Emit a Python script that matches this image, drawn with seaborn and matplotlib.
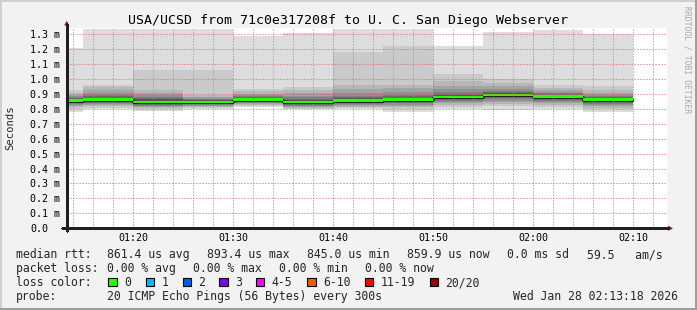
import numpy as np
import pandas as pd
import matplotlib
matplotlib.use("Agg")
import matplotlib.pyplot as plt
import seaborn as sns
from matplotlib.patches import Polygon, Rectangle
from matplotlib.lines import Line2D
from matplotlib.ticker import MultipleLocator

# ---------------- data ----------------
# sample timestamps: minutes after 01:00 (end of each 300 s step)
sample_min = [15, 20, 25, 30, 35, 40, 45, 50, 55, 60, 65, 70]
# median rtt (ms) per step
median_ms = [0.854, 0.860, 0.845, 0.845, 0.860, 0.845, 0.854, 0.860, 0.878, 0.892, 0.880, 0.860]
# 20 sorted ping rtts (ms) per step
rtt_0115 = [0.780, 0.800, 0.812, 0.820, 0.828, 0.833, 0.838, 0.842, 0.846, 0.850,
            0.858, 0.862, 0.867, 0.872, 0.878, 0.885, 0.895, 0.905, 0.925, 1.204]
rtt_0120 = [0.798, 0.808, 0.817, 0.824, 0.830, 0.836, 0.841, 0.846, 0.851, 0.856,
            0.864, 0.868, 0.874, 0.882, 0.892, 0.905, 0.925, 0.945, 0.958, 1.333]
rtt_0125 = [0.787, 0.796, 0.803, 0.810, 0.816, 0.821, 0.826, 0.831, 0.836, 0.841,
            0.849, 0.855, 0.862, 0.869, 0.878, 0.890, 0.905, 0.925, 1.058, 1.333]
rtt_0130 = [0.798, 0.804, 0.810, 0.815, 0.820, 0.825, 0.829, 0.833, 0.837, 0.841,
            0.849, 0.853, 0.857, 0.861, 0.866, 0.872, 0.880, 0.890, 1.058, 1.333]
rtt_0135 = [0.810, 0.818, 0.824, 0.830, 0.835, 0.840, 0.844, 0.848, 0.852, 0.856,
            0.864, 0.867, 0.871, 0.876, 0.882, 0.890, 0.900, 0.918, 0.935, 1.288]
rtt_0140 = [0.798, 0.801, 0.806, 0.811, 0.816, 0.821, 0.826, 0.831, 0.836, 0.841,
            0.849, 0.854, 0.860, 0.867, 0.876, 0.888, 0.905, 0.925, 0.945, 1.306]
rtt_0145 = [0.796, 0.804, 0.812, 0.818, 0.824, 0.830, 0.835, 0.840, 0.845, 0.850,
            0.858, 0.863, 0.869, 0.877, 0.888, 0.905, 0.935, 0.960, 1.177, 1.333]
rtt_0150 = [0.780, 0.797, 0.810, 0.820, 0.828, 0.835, 0.841, 0.846, 0.851, 0.856,
            0.864, 0.868, 0.874, 0.882, 0.893, 0.910, 0.940, 0.960, 1.219, 1.333]
rtt_0155 = [0.796, 0.812, 0.825, 0.837, 0.845, 0.852, 0.858, 0.864, 0.869, 0.874,
            0.882, 0.886, 0.892, 0.900, 0.912, 0.930, 0.955, 0.985, 1.030, 1.219]
rtt_0200 = [0.789, 0.815, 0.832, 0.845, 0.854, 0.862, 0.869, 0.876, 0.882, 0.888,
            0.895, 0.898, 0.903, 0.910, 0.920, 0.935, 0.955, 0.975, 0.996, 1.313]
rtt_0205 = [0.796, 0.812, 0.825, 0.836, 0.845, 0.853, 0.860, 0.866, 0.872, 0.877,
            0.883, 0.886, 0.890, 0.896, 0.903, 0.912, 0.925, 0.940, 0.958, 1.326]
rtt_0210 = [0.780, 0.795, 0.806, 0.816, 0.824, 0.831, 0.838, 0.844, 0.850, 0.856,
            0.864, 0.867, 0.871, 0.876, 0.883, 0.892, 0.905, 0.925, 0.950, 1.302]

ytick_vals = [0.0, 0.1, 0.2, 0.3, 0.4, 0.5, 0.6, 0.7, 0.8, 0.9, 1.0, 1.1, 1.2, 1.3]
xtick_min = [20, 30, 40, 50, 60, 70]
xtick_labels = ["01:20", "01:30", "01:40", "01:50", "02:00", "02:10"]

title = "USA/UCSD from 71c0e317208f to U. C. San Diego Webserver"
loss_labels = ["0", "1", "2", "3", "4-5", "6-10", "11-19", "20/20"]
loss_colors = ["#26ff00", "#00b8ff", "#0059ff", "#7e00ff", "#ff00ff", "#ff5500", "#ff0000", "#a00000"]

# ---------------- style ----------------
sns.set_style("white")
plt.rcParams["font.family"] = ["DejaVu Sans Mono"]
plt.rcParams["lines.antialiased"] = False

W, H = 697, 310
BG = "#f2f2f2"
fig = plt.figure(figsize=(W / 100, H / 100), dpi=100, facecolor=BG)


def fx(x):
    return x / W


def fy(y):
    return 1 - y / H


X0, X1 = 66.7, 666.7
Y0, YT = 228.3, 28.0
ax = fig.add_axes([fx(X0), fy(Y0), (X1 - X0) / W, (Y0 - YT) / H])
ax.set_facecolor("white")

pings = np.array([rtt_0115, rtt_0120, rtt_0125, rtt_0130, rtt_0135, rtt_0140,
                  rtt_0145, rtt_0150, rtt_0155, rtt_0200, rtt_0205, rtt_0210])
xs = np.array([sample_min[0] - 5] + sample_min, dtype=float)
P = np.vstack([pings[0:1], pings])
med = np.array([median_ms[0]] + median_ms)

# smoke (smokeping style)
n = 20
half = n // 2
for i in range(half):
    g = int(190 / half * (half - (i + 1))) + 50
    col = "#%02x%02x%02x" % (g, g, g)
    ax.fill_between(xs, P[:, i], P[:, n - 1 - i], step="pre", color=col,
                    linewidth=0, zorder=1 + i * 0.01)

# median dark line + loss-coloured band
df = pd.DataFrame({"t": xs, "median": med})
sns.lineplot(data=df, x="t", y="median", ax=ax, color="#202020", lw=0.8,
             drawstyle="steps-pre", zorder=1.3, legend=False)
sw = 0.009
ax.fill_between(xs, med - sw, med + sw, step="pre", color=loss_colors[0],
                linewidth=0, zorder=1.5)

ax.set_xlim(13 + 1 / 3, 73 + 1 / 3)
ax.set_ylim(0, (Y0 - YT) / ((Y0 - 34.0) / 1.3))

# grid (drawn on top, like rrdtool)
ax.set_axisbelow(False)
ax.set_xticks(xtick_min)
ax.set_xticklabels(xtick_labels)
ax.xaxis.set_minor_locator(MultipleLocator(2))
ax.set_yticks(ytick_vals)
ax.set_yticklabels(["0.0" if v == 0 else f"{v:.1f} m" for v in ytick_vals], ha="left")
ax.grid(which="major", color=(0.87, 0.31, 0.31), alpha=0.45, linestyle=(0, (1.5, 1.5)), lw=0.72)
ax.grid(which="minor", axis="x", color=(0.56, 0.56, 0.56), alpha=0.5, linestyle=(0, (1.5, 1.5)), lw=0.72)
ax.tick_params(axis="y", which="both", length=0, pad=26.4, labelsize=7.2, colors="black")
ax.tick_params(axis="x", which="both", length=0, pad=3.5, labelsize=7.2, colors="black")
for s in ax.spines.values():
    s.set_visible(False)
ax.set_xlabel("")
ax.set_ylabel("")

# axis lines and arrows
axis_col = (0.12, 0.12, 0.12)
arrow_col = (0.5, 0.12, 0.12)
fig.add_artist(Line2D([fx(62), fx(669)], [fy(Y0), fy(Y0)], color=axis_col, lw=0.9))
fig.add_artist(Line2D([fx(X0), fx(X0)], [fy(231), fy(24)], color=axis_col, lw=0.9))
fig.add_artist(Polygon([[fx(X0 - 2.6), fy(25.5)], [fx(X0 + 2.6), fy(25.5)], [fx(X0), fy(20.8)]],
                       closed=True, color=arrow_col, lw=0))
fig.add_artist(Polygon([[fx(668), fy(Y0 - 2.6)], [fx(668), fy(Y0 + 2.6)], [fx(673), fy(Y0)]],
                       closed=True, color=arrow_col, lw=0))

# title, labels, watermark
fig.text(fx(347.5), fy(24), title, ha="center", va="baseline", fontsize=9.5, color="black")
fig.text(fx(10), fy(128), "Seconds", rotation=90, ha="center", va="center", fontsize=7.6)
fig.text(fx(687), fy(60), "RRDTOOL / TOBI OETIKER", rotation=270, ha="center", va="center",
         fontsize=5.8, color="#a8a8a8")

# legend lines
LS = 8.3
b1, b2, b3, b4 = 258.3, 272.3, 286.3, 300.3
row1 = [(16, "median rtt:"), (107.3, "861.4 us avg"), (207.3, "893.4 us max"),
        (307.3, "845.0 us min"), (406.7, "859.9 us now"), (507.3, "0.0 ms sd"),
        (586.7, "59.5   am/s")]
row2 = [(16, "packet loss:"), (107.3, "0.00 % avg"), (193.3, "0.00 % max"),
        (279.3, "0.00 % min"), (365.0, "0.00 % now")]
row4 = [(16, "probe:"), (107.3, "20 ICMP Echo Pings (56 Bytes) every 300s"),
        (512.7, "Wed Jan 28 02:13:18 2026")]
for x, t in row1:
    fig.text(fx(x), fy(b1), t, ha="left", va="baseline", fontsize=LS)
for x, t in row2:
    fig.text(fx(x), fy(b2), t, ha="left", va="baseline", fontsize=LS)
for x, t in row4:
    fig.text(fx(x), fy(b4), t, ha="left", va="baseline", fontsize=LS)
fig.text(fx(16), fy(b3), "loss color:", ha="left", va="baseline", fontsize=LS)
box_x = [108.3, 146, 182.7, 219.3, 256, 307.3, 365, 430]
for bx, lab, col in zip(box_x, loss_labels, loss_colors):
    fig.add_artist(Rectangle((fx(bx), fy(b3)), 8.3 / W, 8.6 / H, facecolor=col,
                             edgecolor="black", lw=0.8, transform=fig.transFigure))
    fig.text(fx(bx + 15.5), fy(b3), lab, ha="left", va="baseline", fontsize=LS)

# frame shading
fig.add_artist(Rectangle((0, 1 - 2 / H), 1, 2 / H, color="#cfcfcf", lw=0, transform=fig.transFigure))
fig.add_artist(Rectangle((0, 0), 2 / W, 1, color="#cfcfcf", lw=0, transform=fig.transFigure))
fig.add_artist(Rectangle((0, 0), 1, 2.5 / H, color="#9e9e9e", lw=0, transform=fig.transFigure))
fig.add_artist(Rectangle((1 - 2.5 / W, 0), 2.5 / W, 1, color="#9e9e9e", lw=0, transform=fig.transFigure))

fig.savefig("out.png", dpi=100, facecolor=BG)
